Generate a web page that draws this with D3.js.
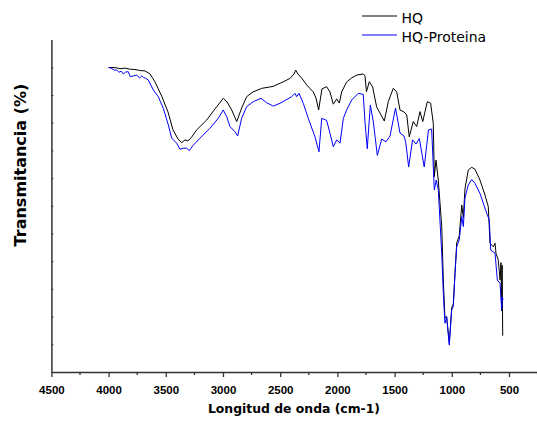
<!DOCTYPE html>
<html>
<head>
<meta charset="utf-8">
<script src="https://cdn.jsdelivr.net/npm/d3@7"></script>
<style>
  body { margin: 0; background: #fff; }
</style>
</head>
<body>
<script>
const width = 537;
const height = 424;

// Spectra: [wavenumber (cm-1), transmittance]
const hq = [
  [4000, 109.9], [3944, 109.9], [3900, 109.5], [3857, 109.7], [3810, 109.3],
  [3769, 109.2], [3720, 108.8], [3682, 108.7], [3638, 107.6], [3594, 104.7],
  [3536, 99.6], [3481, 93.9], [3437, 87.4], [3393, 84.1], [3361, 82.8],
  [3332, 83.8], [3306, 83.4], [3274, 84.8], [3230, 87.4], [3142, 91.0],
  [3055, 95.8], [2997, 98.8], [2965, 97.5], [2924, 94.6], [2880, 90.4],
  [2837, 95.3], [2793, 99.4], [2738, 101.1], [2662, 102.4], [2563, 103.1],
  [2476, 104.7], [2414, 106.0], [2379, 107.6], [2365, 109.0], [2345, 107.6],
  [2312, 106.1], [2268, 103.6], [2211, 101.1], [2187, 98.9], [2164, 94.6],
  [2135, 102.2], [2094, 103.0], [2065, 101.1], [2036, 96.7], [2006, 98.6],
  [1983, 97.1], [1963, 101.1], [1919, 104.7], [1875, 106.2], [1829, 107.2],
  [1774, 107.6], [1759, 106.9], [1746, 101.2], [1721, 104.8], [1692, 102.9],
  [1657, 95.7], [1628, 93.5], [1590, 90.6], [1555, 97.6], [1512, 102.4],
  [1482, 101.2], [1453, 94.6], [1418, 93.9], [1394, 92.8], [1372, 84.9],
  [1337, 90.4], [1307, 88.6], [1278, 94.0], [1254, 90.4], [1214, 97.6],
  [1185, 97.0], [1162, 89.8], [1153, 70.5], [1138, 76.5], [1118, 69.3],
  [1088, 52.5], [1074, 33.2], [1060, 19.5], [1045, 20.0], [1022, 10.4],
  [1001, 23.1], [987, 24.5], [972, 35.6], [957, 46.6], [935, 49.1],
  [913, 60.3], [899, 55.8], [885, 66.1], [856, 72.9], [826, 73.9],
  [797, 73.2], [754, 69.3], [710, 63.9], [681, 59.7], [666, 46.5],
  [637, 45.2], [622, 46.5], [614, 42.9], [594, 40.4], [578, 33.2],
  [570, 39.5], [565, 22.0], [560, 38.5], [555, 13.1]
];

const hqProteina = [
  [4000, 110.0], [3975, 109.6], [3950, 109.0], [3929, 109.0], [3910, 108.2],
  [3890, 108.6], [3872, 107.6], [3850, 108.3], [3828, 108.4], [3810, 106.6],
  [3784, 106.9], [3754, 107.2], [3730, 106.1], [3710, 106.9], [3697, 106.4],
  [3675, 106.0], [3653, 105.4], [3609, 101.8], [3566, 99.4], [3522, 95.2],
  [3478, 89.2], [3448, 84.4], [3405, 82.6], [3376, 80.4], [3347, 80.8],
  [3317, 80.8], [3295, 79.9], [3260, 81.9], [3201, 84.4], [3114, 88.0],
  [3041, 91.6], [2998, 94.6], [2968, 92.2], [2939, 88.6], [2895, 86.7],
  [2872, 85.2], [2837, 91.6], [2793, 95.8], [2735, 97.6], [2668, 98.8],
  [2618, 97.2], [2560, 96.0], [2502, 97.0], [2400, 99.4], [2371, 100.6],
  [2356, 99.4], [2336, 100.6], [2298, 97.0], [2255, 91.6], [2196, 84.9],
  [2161, 79.5], [2137, 91.6], [2094, 90.8], [2065, 86.2], [2036, 81.3],
  [2006, 83.8], [1977, 82.6], [1948, 91.6], [1919, 94.6], [1875, 98.2],
  [1817, 100.6], [1774, 100.2], [1759, 90.4], [1739, 80.6], [1712, 96.4],
  [1686, 90.3], [1651, 78.2], [1613, 84.1], [1575, 83.1], [1540, 85.2],
  [1492, 95.3], [1453, 86.3], [1418, 85.2], [1403, 83.1], [1377, 74.0],
  [1343, 83.8], [1313, 82.3], [1284, 84.3], [1241, 74.0], [1204, 87.4],
  [1176, 87.7], [1153, 65.7], [1136, 69.3], [1118, 65.7], [1088, 42.9],
  [1074, 28.4], [1060, 17.6], [1045, 19.9], [1022, 9.7], [1001, 22.4],
  [987, 23.6], [972, 35.6], [957, 45.2], [935, 47.7], [913, 56.1],
  [899, 52.5], [885, 62.8], [856, 67.5], [826, 69.5], [797, 68.1],
  [754, 64.5], [695, 57.3], [672, 54.9], [660, 44.0], [622, 42.9],
  [602, 33.2], [578, 32.0], [564, 22.4], [558, 27.0], [552, 26.0]
];

const xMajorTicks = [4500, 4000, 3500, 3000, 2500, 2000, 1500, 1000, 500];
const xMinorTicks = [4250, 3750, 3250, 2750, 2250, 1750, 1250, 750, 250];
const yTicks = [10, 20, 30, 40, 50, 60, 70, 80, 90, 100, 110];

const series = [
  { label: 'HQ', color: '#000000', data: hq },
  { label: 'HQ-Proteina', color: '#0000ff', data: hqProteina },
];

const svg = d3.select('body')
  .append('svg')
  .attr('width', width)
  .attr('height', height)
  .style('font-family', 'DejaVu Sans');

const x = d3.scaleLinear().domain([4500, 250]).range([51.4, 537.6]);
const y = d3.scaleLinear().domain([0, 120]).range([372, 39.6]);

// spectra
const line = d3.line().x((d) => x(d[0])).y((d) => y(d[1]));

series.forEach((s) => {
  svg.append('path')
    .datum(s.data)
    .attr('fill', 'none')
    .attr('stroke', s.color)
    .attr('stroke-width', 1)
    .attr('stroke-linejoin', 'round')
    .attr('d', line);
});

// x axis
const xAxis = svg.append('g')
  .attr('transform', `translate(0, ${y(0)})`)
  .call(
    d3.axisBottom(x)
      .tickValues(xMajorTicks)
      .tickFormat(d3.format('d'))
      .tickSize(5)
      .tickSizeOuter(0)
      .tickPadding(9)
  );

xAxis.select('.domain').attr('stroke', '#333').attr('stroke-width', 1.5);
xAxis.selectAll('.tick line').attr('stroke', '#333').attr('stroke-width', 1.3);
xAxis.selectAll('.tick text')
  .attr('fill', '#000')
  .style('font-size', '11.5px')
  .style('font-weight', 'bold');

xAxis.selectAll('.minor')
  .data(xMinorTicks)
  .enter()
  .append('line')
  .attr('class', 'minor')
  .attr('x1', (d) => x(d))
  .attr('x2', (d) => x(d))
  .attr('y1', 0)
  .attr('y2', 3)
  .attr('stroke', '#333')
  .attr('stroke-width', 1.3);

// y axis (no labels, small inward ticks)
const yAxis = svg.append('g')
  .attr('transform', `translate(${x(4500)}, 0)`)
  .call(d3.axisRight(y).tickValues(yTicks).tickSize(2).tickSizeOuter(0).tickFormat(''));

yAxis.select('.domain').attr('stroke', '#333').attr('stroke-width', 1.5);
yAxis.selectAll('.tick line').attr('stroke', '#333').attr('stroke-width', 1);

// axis titles
svg.append('text')
  .attr('x', 294)
  .attr('y', 413)
  .attr('text-anchor', 'middle')
  .style('font-size', '12.4px')
  .style('font-weight', 'bold')
  .text('Longitud de onda (cm-1)');

svg.append('text')
  .attr('transform', 'translate(26, 165) rotate(-90)')
  .attr('text-anchor', 'middle')
  .style('font-size', '16px')
  .style('font-weight', 'bold')
  .text('Transmitancia (%)');

// legend
const legend = svg.append('g');
series.forEach((s, i) => {
  const ly = 16 + i * 19;
  legend.append('line')
    .attr('x1', 362)
    .attr('x2', 397)
    .attr('y1', ly)
    .attr('y2', ly)
    .attr('stroke', s.color)
    .attr('stroke-width', 1);
  legend.append('text')
    .attr('x', 401.5)
    .attr('y', ly + 6.5)
    .style('font-size', '14px')
    .text(s.label);
});
</script>
</body>
</html>
